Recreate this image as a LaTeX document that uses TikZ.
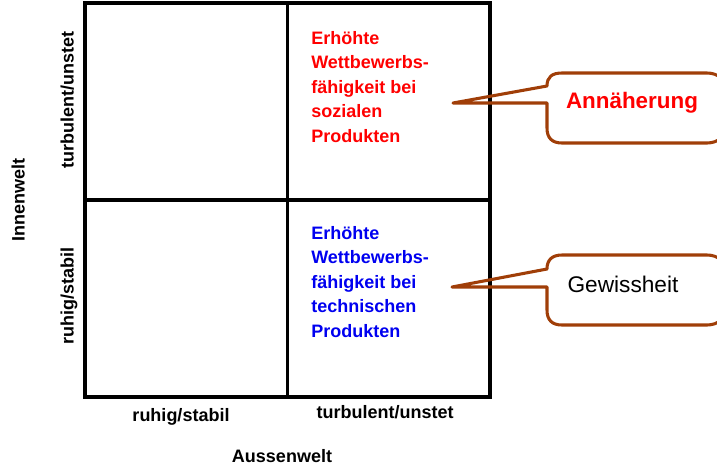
\documentclass[tikz,border=0pt]{standalone}
\usepackage{fontspec}
\setmainfont{Liberation Sans}
\usetikzlibrary{positioning}
\definecolor{bubblebrown}{RGB}{160,62,8}
\definecolor{redtxt}{RGB}{255,0,0}
\definecolor{bluetxt}{RGB}{0,0,240}

\begin{document}
\begin{tikzpicture}[x=0.75pt, y=-0.75pt,
    axislabel/.style={font=\bfseries\fontsize{13.5}{16}\selectfont, inner sep=0pt},
    quadtext/.style={font=\bfseries\fontsize{13.5}{18.4}\selectfont, align=left, inner sep=0pt, anchor=north west},
    bubble/.style={draw=bubblebrown, line width=2.3pt, line join=round}]
  \useasboundingbox (0,0) rectangle (717,468);
  \clip (0,0) rectangle (717,468);
  % Matrix
  \node[draw, line width=2.4pt, minimum width=303.75pt, minimum height=295.5pt, inner sep=0pt] (Matrix) at (287.5,200) {};
  \draw[line width=2.4pt] (Matrix.north) -- (Matrix.south);
  \draw[line width=2.4pt] (Matrix.west) -- (Matrix.east);
  % Texts in the quadrants
  \node[quadtext, text=redtxt] (Social) at (311,31) {Erhöhte\\ Wettbewerbs-\\ fähigkeit bei\\ sozialen\\ Produkten};
  \node[quadtext, text=bluetxt] (Technical) at (311,226) {Erhöhte\\ Wettbewerbs-\\ fähigkeit bei\\ technischen\\ Produkten};
  % Axes
  \node[axislabel, rotate=90, anchor=base] (InTurb) at (73.5,100) {turbulent/unstet};
  \node[axislabel, rotate=90, anchor=base] (InCalm) at (73.5,296) {ruhig/stabil};
  \node[axislabel, rotate=90, anchor=base] (Inner) at (24.5,200) {Innenwelt};
  \node[axislabel, anchor=base] (OutCalm) at (181,421) {ruhig/stabil};
  \node[axislabel, anchor=base] (OutTurb) at (385,418) {turbulent/unstet};
  \node[axislabel, anchor=base] (Outer) at (282,462) {Aussenwelt};
  % Callouts
  \coordinate (TipA) at (453,103);
  \draw[bubble] (TipA) -- (547,86) .. controls (547,77) and (552,73) .. (562,73)
    -- (707,73) .. controls (718,73) and (727,80) .. (727,92)
    -- (727,124) .. controls (727,136) and (718,143) .. (707,143)
    -- (562,143) .. controls (552,143) and (547,138) .. (547,128)
    -- (547,103) -- cycle;
  \node[font=\bfseries\fontsize{16.8}{20}\selectfont, text=redtxt] (Approach) at (632,103) {Annäherung};
  \coordinate (TipB) at (452,287);
  \draw[bubble] (TipB) -- (547,269) .. controls (547,260) and (552,255) .. (562,255)
    -- (707,255) .. controls (718,255) and (727,262) .. (727,274)
    -- (727,306) .. controls (727,318) and (718,325) .. (707,325)
    -- (562,325) .. controls (552,325) and (547,320) .. (547,310)
    -- (547,287) -- cycle;
  \node[font=\fontsize{17}{20}\selectfont] (Certainty) at (623,284) {Gewissheit};
\end{tikzpicture}
\end{document}
